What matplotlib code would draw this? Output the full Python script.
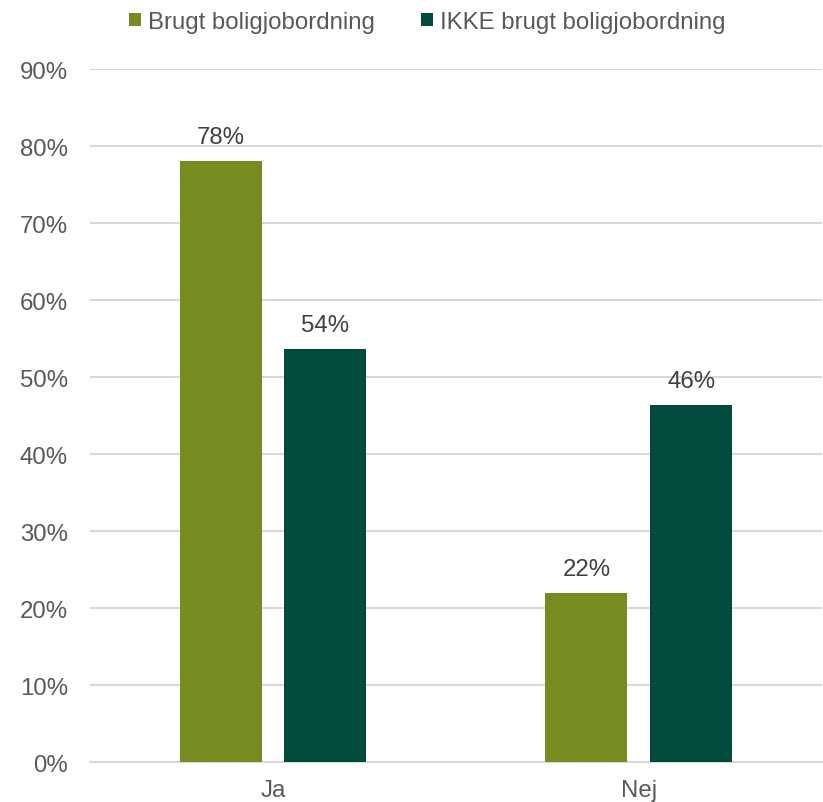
import matplotlib
matplotlib.use("Agg")
import matplotlib.pyplot as plt
import numpy as np

plt.rcParams['font.family'] = ['Liberation Sans', 'DejaVu Sans']

categories = ["Ja", "Nej"]
series_names = ["Brugt boligjobordning", "IKKE brugt boligjobordning"]
brugt = [0.78, 0.22]
ikke_brugt = [0.536, 0.464]
colors = ["#778C20", "#024A3B"]
text_color = "#595959"
fs = 17.3

fig = plt.figure(figsize=(8.23, 8.03), dpi=100)
ax = fig.add_axes([0.1094, 0.0498, 0.889, 0.863])

x = np.arange(len(categories))
w = 0.224
off = 0.143
for vals, name, c, d in [(brugt, series_names[0], colors[0], -off),
                         (ikke_brugt, series_names[1], colors[1], off)]:
    bars = ax.bar(x + d, vals, w, color=c, label=name, zorder=3)
    for b, v in zip(bars, vals):
        ax.text(b.get_x() + b.get_width() / 2, v + 0.017, f"{v*100:.0f}%",
                ha="center", va="bottom", fontsize=fs, color="#404040")

ax.set_xlim(-0.5, 1.5)
ax.set_ylim(0, 0.9)
ax.set_yticks(np.arange(0, 0.91, 0.1))
ax.set_yticklabels([f"{int(round(t*100))}%" for t in np.arange(0, 0.91, 0.1)])
ax.set_xticks(x)
ax.set_xticklabels(categories)
ax.tick_params(axis="both", length=0, labelsize=fs, labelcolor=text_color)
ax.tick_params(axis="y", pad=15.8)
ax.tick_params(axis="x", pad=12.5)
ax.grid(axis="y", color="#D9D9D9", linewidth=1.5, zorder=0)
for s in ["top", "right", "left"]:
    ax.spines[s].set_visible(False)
ax.spines["bottom"].set_color("#D9D9D9")
ax.spines["bottom"].set_linewidth(1.5)

fig.legend(loc="upper center", bbox_to_anchor=(0.519, 1.012), ncol=2, frameon=False,
           fontsize=fs, labelcolor=text_color, handlelength=0.5, handleheight=0.5,
           handletextpad=0.3, columnspacing=1.9)

fig.savefig("out.png", dpi=100)
